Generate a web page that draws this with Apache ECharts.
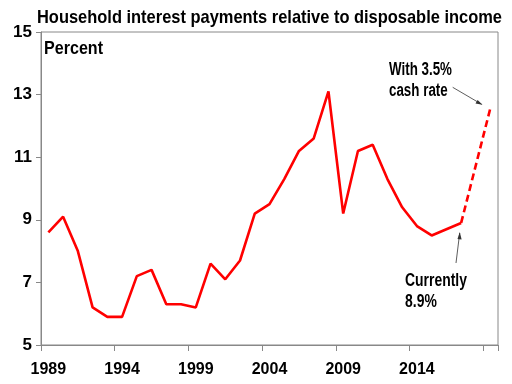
<!DOCTYPE html>
<html><head><meta charset="utf-8">
<script src="https://cdn.jsdelivr.net/npm/echarts@6/dist/echarts.min.js"></script>
<style>html,body{margin:0;padding:0;background:#fff}#c{width:512px;height:384px}</style>
</head><body><div id="c"></div>
<script>
const years = ['1989','1990','1991','1992','1993','1994','1995','1996','1997','1998','1999','2000','2001','2002','2003','2004','2005','2006','2007','2008','2009','2010','2011','2012','2013','2014','2015','2016','2017','2018','2019'];
const actual = [8.6,9.1,8.0,6.2,5.9,5.9,7.2,7.4,6.3,6.3,6.2,7.6,7.1,7.7,9.2,9.5,10.3,11.2,11.6,13.1,9.2,11.2,11.4,10.3,9.4,8.8,8.5,8.7,8.9,null,null];
const scenario = [null,null,null,null,null,null,null,null,null,null,null,null,null,null,null,null,null,null,null,null,null,null,null,null,null,null,null,null,8.9,null,12.6];
const shownLabels = ['1989','1994','1999','2004','2009','2014'];
const yTicks = [5,7,9,11,13,15];

const FONT = '"Liberation Sans",Arial,sans-serif';
const mctx = document.createElement('canvas').getContext('2d');
function squeezed(text, size, x, y, targetW, lh){
  mctx.font = 'bold ' + size + 'px ' + FONT;
  const lines = text.split('\n');
  const w = Math.max(...lines.map(l=>mctx.measureText(l).width));
  return {type:'text', x:x, y:y, scaleX: targetW / w, scaleY: 1, z: 10,
    style:{text:text, x:0, y:0, font:'bold ' + size + 'px ' + FONT, fill:'#000',
      verticalAlign:'top', align:'left', lineHeight: lh || size*1.2}};
}
const chart = echarts.init(document.getElementById('c'));
chart.setOption({
  animation:false,
  grid:{left:41,right:14,top:32,bottom:39,show:true,borderColor:'#888',borderWidth:1},
  xAxis:{type:'category',data:years,boundaryGap:true,
    axisLine:{lineStyle:{color:'#888',width:1}},
    axisTick:{show:true,interval:4,length:6,lineStyle:{color:'#888'}},
    axisLabel:{interval:4,margin:17,fontFamily:FONT,fontWeight:'bold',fontSize:16,color:'#000',
      formatter:v=>shownLabels.includes(v)?v:''},
    splitLine:{show:false}},
  yAxis:{type:'value',min:5,max:15,interval:2,
    axisLine:{show:true,lineStyle:{color:'#888',width:1}},
    axisTick:{show:true,length:5,lineStyle:{color:'#888'}},
    axisLabel:{margin:9,fontFamily:FONT,fontWeight:'bold',fontSize:17,color:'#000',
      formatter:v=>yTicks.includes(v)?String(v):''},
    splitLine:{show:false}},
  series:[
    {type:'line',data:actual,symbol:'none',lineStyle:{color:'#ff0000',width:2.6},z:3},
    {type:'line',data:scenario,symbol:'none',connectNulls:true,lineStyle:{color:'#ff0000',width:2.6,type:[7,4]},z:3}
  ],
  graphic:[
    squeezed('Household interest payments relative to disposable income',18.5,37,7,465),
    squeezed('Percent',18.5,44,38,59),
    squeezed('With 3.5%\ncash rate',17.5,389,60,63,21),
    squeezed('Currently\n8.9%',17.5,405,271,62,21),
    {type:'line',shape:{x1:452.7,y1:87.3,x2:481.7,y2:104.3},style:{stroke:'#333',lineWidth:0.8}},
    {type:'polygon',shape:{points:[[482.5,104.8],[475.5,103.6],[477.6,100]]},style:{fill:'#333'}},
    {type:'line',shape:{x1:456,y1:263,x2:459.7,y2:233},style:{stroke:'#333',lineWidth:0.8}},
    {type:'polygon',shape:{points:[[459.8,232],[457.5,239],[461.6,239.4]]},style:{fill:'#333'}}
  ]
});
</script></body></html>
